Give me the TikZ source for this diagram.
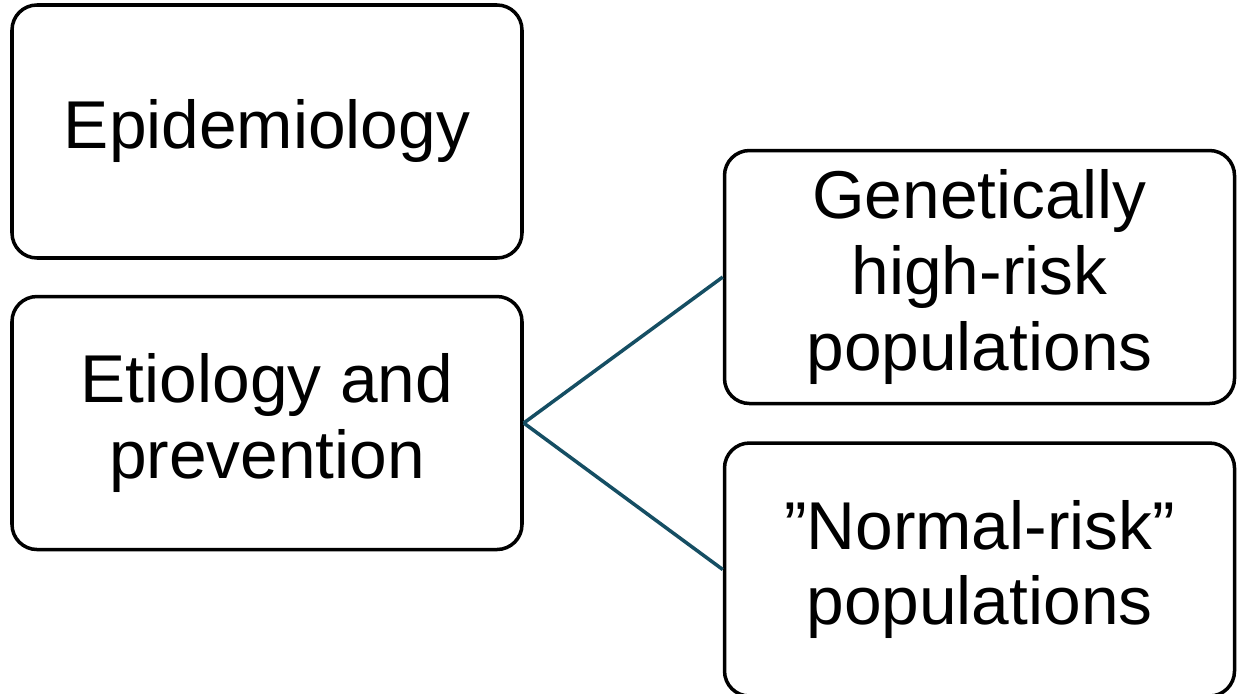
\documentclass[tikz,border=0pt]{standalone}
\usepackage{fontspec}
\setmainfont{Liberation Sans}
\usepackage{xcolor}
\usepackage{tikz}
\usetikzlibrary{positioning, calc}
\definecolor{linkblue}{RGB}{21,78,99}

\begin{document}
\begin{tikzpicture}[
  topic/.style={
    rectangle, rounded corners=0.5cm,
    draw=black, line width=2pt,
    minimum width=10.2cm, minimum height=5.06cm,
    font=\fontsize{38.5}{43}\selectfont, align=center, inner sep=2pt},
  link/.style={line width=2pt, linkblue}
]
  \useasboundingbox (0,0) rectangle (24.96,-13.88);
  \node[topic] at (5.34,-2.63) (Epi) {Epidemiology};
  \node[topic, below=0.70cm of Epi] (Eti) {Etiology and\\prevention};
  \node[topic, right=3.98cm of Eti, yshift=2.92cm] (Gen)
    {Genetically\\high-risk\\populations};
  \node[topic, below=0.72cm of Gen] (Norm)
    {”Normal-risk”\\populations};
  % Links
  \draw[link] (Eti.east)--(Gen.west);
  \draw[link] (Eti.east)--(Norm.west);
\end{tikzpicture}
\end{document}
